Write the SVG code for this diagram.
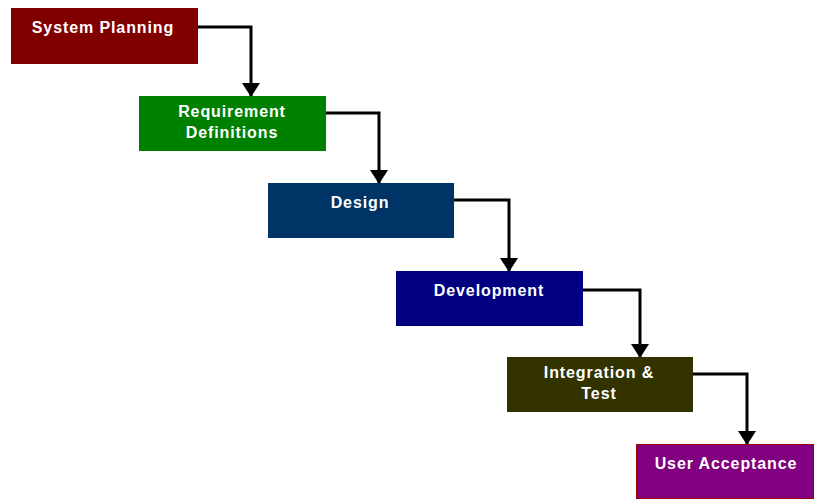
<svg xmlns="http://www.w3.org/2000/svg" width="814" height="499" viewBox="0 0 814 499">
  <style>
    .lbl { font-family: "Liberation Sans", Arial, sans-serif; font-weight: bold; font-size: 16px; letter-spacing: 0.9px; fill: #ffffff; text-anchor: middle; }
    .wire { fill: none; stroke: #000000; stroke-width: 3; }
  </style>
  <defs>
    <marker id="head" viewBox="0 0 14 18" refX="13" refY="9" markerWidth="14" markerHeight="18" markerUnits="userSpaceOnUse" orient="auto">
      <path d="M0,0 L14,9 L0,18 Z" fill="#000000"/>
    </marker>
  </defs>
  <rect width="814" height="499" fill="#ffffff"/>

  <g id="connectors">
    <path class="wire" d="M198,27 H251 V96" marker-end="url(#head)"/>
    <path class="wire" d="M326,113 H379 V183" stroke-width="2" marker-end="url(#head)"/>
    <path class="wire" d="M454,200 H509 V271" marker-end="url(#head)"/>
    <path class="wire" d="M583,290 H640 V357" marker-end="url(#head)"/>
    <path class="wire" d="M693,374 H747 V444" stroke-width="2.5" marker-end="url(#head)"/>
  </g>

  <g id="system-planning">
    <rect x="11" y="8" width="187" height="56" fill="#800000"/>
    <text class="lbl" x="103" y="33">System Planning</text>
  </g>
  <g id="requirement-definitions">
    <rect x="139" y="96" width="187" height="55" fill="#008000"/>
    <text class="lbl" x="232" y="117">Requirement</text>
    <text class="lbl" x="232" y="138">Definitions</text>
  </g>
  <g id="design">
    <rect x="268" y="183" width="186" height="55" fill="#003366"/>
    <text class="lbl" x="360" y="208">Design</text>
  </g>
  <g id="development">
    <rect x="396" y="271" width="187" height="55" fill="#000080"/>
    <text class="lbl" x="489" y="296">Development</text>
  </g>
  <g id="integration-test">
    <rect x="507" y="357" width="186" height="55" fill="#333300"/>
    <text class="lbl" x="599" y="378">Integration &amp;</text>
    <text class="lbl" x="599" y="399">Test</text>
  </g>
  <g id="user-acceptance">
    <rect x="636.5" y="444.5" width="177" height="54" fill="#800080" stroke="#990000" stroke-width="1"/>
    <text class="lbl" x="726" y="469">User Acceptance</text>
  </g>
</svg>
